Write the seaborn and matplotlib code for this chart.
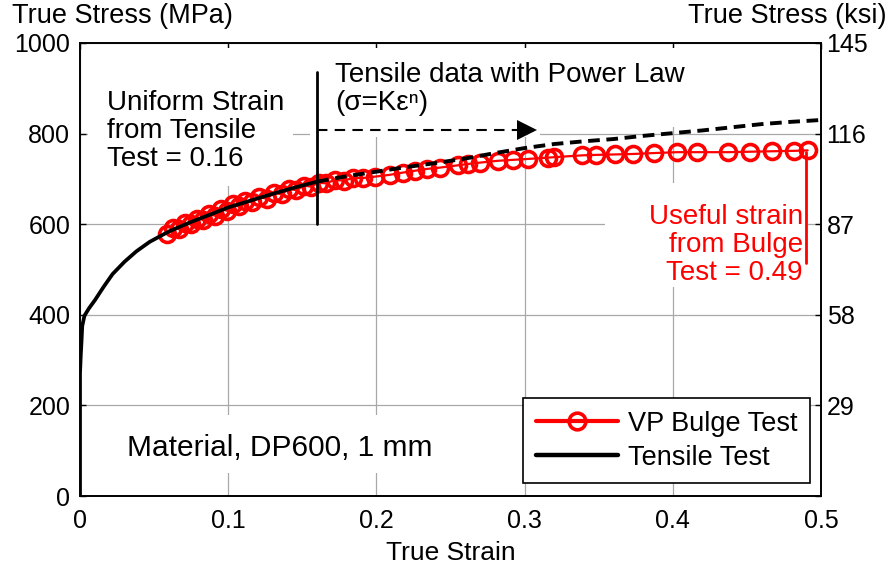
import matplotlib
matplotlib.use("Agg")
import matplotlib.pyplot as plt
from matplotlib.patches import Rectangle
from matplotlib.lines import Line2D
import seaborn as sns
import pandas as pd

# ---- data -------------------------------------------------------------
# tensile test, measured part (true strain, true stress MPa)
tensile_strain = [0.0, 0.0, 0.0005, 0.001, 0.0015, 0.003, 0.006, 0.010, 0.016,
                  0.022, 0.030, 0.038, 0.047, 0.060, 0.075, 0.090, 0.100,
                  0.115, 0.130, 0.145, 0.160]
tensile_stress = [0, 270, 310, 340, 375, 398, 414, 432, 462,
                  490, 517, 540, 561, 584, 605, 624, 637,
                  652, 667, 681, 694]

# tensile data extrapolated with the power law
power_strain = [0.160, 0.180, 0.200, 0.220, 0.240, 0.260, 0.280, 0.300, 0.320,
                0.340, 0.360, 0.380, 0.400, 0.420, 0.440, 0.460, 0.480, 0.500]
power_stress = [694, 706, 716, 726, 735, 745, 757, 768, 777,
                783, 788, 795, 801, 807, 814, 821, 826, 830]

# viscous pressure bulge test
bulge_strain = [0.059, 0.063, 0.067, 0.071, 0.075, 0.079, 0.083, 0.087, 0.091,
                0.095, 0.099, 0.103, 0.107, 0.111, 0.116, 0.121, 0.126, 0.131,
                0.136, 0.141, 0.146, 0.151, 0.156, 0.161, 0.166, 0.172, 0.178,
                0.184, 0.191, 0.199, 0.209, 0.218, 0.226, 0.234, 0.243, 0.255,
                0.262, 0.270, 0.282, 0.292, 0.302, 0.316, 0.320, 0.339, 0.348,
                0.361, 0.373, 0.387, 0.403, 0.416, 0.437, 0.452, 0.467, 0.482,
                0.491]
bulge_stress = [578, 592, 590, 602, 600, 612, 610, 622, 619,
                633, 630, 645, 640, 652, 648, 660, 656, 669,
                666, 678, 675, 685, 683, 692, 690, 698, 696,
                702, 702, 705, 709, 714, 718, 722, 725, 730,
                733, 736, 740, 742, 744, 747, 748, 752, 753,
                754, 755, 757, 759, 759, 759, 760, 761, 762,
                763]

uniform_strain = 0.16      # from tensile test
useful_strain = 0.49       # from bulge test

x_ticks = [0, 0.1, 0.2, 0.3, 0.4, 0.5]
x_tick_labels = ["0", "0.1", "0.2", "0.3", "0.4", "0.5"]
mpa_ticks = [0, 200, 400, 600, 800, 1000]
ksi_ticks = [0, 29, 58, 87, 116, 145]
ksi_tick_labels = ["", "29", "58", "87", "116", "145"]

tensile_df = pd.DataFrame({"strain": tensile_strain, "stress": tensile_stress})
power_df = pd.DataFrame({"strain": power_strain, "stress": power_stress})
bulge_df = pd.DataFrame({"strain": bulge_strain, "stress": bulge_stress})

# ---- style ------------------------------------------------------------
sns.set_style("white")
plt.rcParams["font.family"] = ["Liberation Sans", "DejaVu Sans"]
plt.rcParams["text.color"] = "black"
plt.rcParams["axes.labelcolor"] = "black"
plt.rcParams["xtick.color"] = "black"
plt.rcParams["ytick.color"] = "black"
plt.rcParams["axes.linewidth"] = 1.2

fig = plt.figure(figsize=(8.91, 5.72), dpi=100)
ax = fig.add_axes([80 / 891, 76 / 572, 741 / 891, 453 / 572])

ax.set_xlim(0, 0.5)
ax.set_ylim(0, 1000)
ax.set_axisbelow(True)
ax.grid(True, color="#a8a8a8", linewidth=0.9)

# ---- curves -----------------------------------------------------------
sns.lineplot(data=bulge_df, x="strain", y="stress", ax=ax, color="red",
             linewidth=1.6, marker="o", markersize=11.5, markeredgewidth=2.6,
             markerfacecolor="none", markeredgecolor="red",
             sort=False, estimator=None, zorder=3)
sns.lineplot(data=power_df, x="strain", y="stress", ax=ax, color="black",
             linewidth=2.8, linestyle=(0, (3.0, 1.7)),
             sort=False, estimator=None, zorder=4)
sns.lineplot(data=tensile_df, x="strain", y="stress", ax=ax, color="black",
             linewidth=2.7, sort=False, estimator=None, zorder=4)

# ---- white text backgrounds (hide the grid behind the notes) ----------
for x0, y0, w, h in [(0.011, 0.684, 0.276, 0.305),
                     (0.331, 0.815, 0.506, 0.174),
                     (0.310, 0.792, 0.311, 0.024),
                     (0.7085, 0.461, 0.2735, 0.230),
                     (0.047, 0.051, 0.500, 0.128)]:
    ax.add_patch(Rectangle((x0, y0), w, h, transform=ax.transAxes,
                           facecolor="white", edgecolor="none", zorder=1))

# ---- markers for the two strain limits --------------------------------
ax.plot([uniform_strain, uniform_strain], [600, 935], color="black",
        linewidth=2.0, zorder=5)
ax.plot([useful_strain, useful_strain], [515, 760], color="red",
        linewidth=2.0, zorder=2)

# dashed arrow towards the extrapolated range
ax.plot([uniform_strain, 0.296], [808, 808], color="black", linewidth=1.5,
        linestyle=(0, (5, 3.5)), zorder=5)
ax.plot([0.3015], [808], marker=">", markersize=14, color="black",
        markeredgewidth=0, linestyle="none", zorder=5)

# ---- notes --------------------------------------------------------------
note_size = 20
ax.text(0.036, 0.897, "Uniform Strain\nfrom Tensile\nTest = 0.16",
        transform=ax.transAxes, fontsize=note_size, va="top", ha="left",
        linespacing=1.1, zorder=6)
ax.text(0.344, 0.958, "Tensile data with Power Law\n(σ=Kεⁿ)",
        transform=ax.transAxes, fontsize=note_size, va="top", ha="left",
        linespacing=1.1, zorder=6)
ax.text(0.9757, 0.645, "Useful strain\nfrom Bulge\nTest = 0.49",
        transform=ax.transAxes, fontsize=note_size, va="top", ha="right",
        multialignment="right", linespacing=1.1, color="red", zorder=6)
ax.text(0.0634, 0.0883, "Material, DP600, 1 mm", transform=ax.transAxes,
        fontsize=21.5, va="baseline", ha="left", zorder=6)

# ---- axes, ticks --------------------------------------------------------
ax.set_xticks(x_ticks)
ax.set_xticklabels(x_tick_labels)
ax.set_yticks(mpa_ticks)
ax.tick_params(axis="both", which="both", direction="in", length=4,
               width=1.0, labelsize=18, colors="black")
ax.tick_params(axis="x", top=True, pad=9)
ax.tick_params(axis="y", left=True, right=False, pad=7)
for s in ax.spines.values():
    s.set_color("black")
    s.set_linewidth(1.2)
ax.set_xlabel("True Strain", fontsize=19, labelpad=6)
ax.set_ylabel("")

ax2 = ax.twinx()
ax2.set_ylim(0, 145)
ax2.set_yticks(ksi_ticks)
ax2.set_yticklabels(ksi_tick_labels)
ax2.tick_params(axis="y", direction="in", length=4, width=1.0,
                labelsize=18, pad=4, colors="black")
for s in ax2.spines.values():
    s.set_color("black")
    s.set_linewidth(1.2)
ax2.grid(False)

fig.text(12 / 891, 0.959, "True Stress (MPa)", fontsize=19.5,
         ha="left", va="baseline")
fig.text(887 / 891, 0.959, "True Stress (ksi)", fontsize=19.5,
         ha="right", va="baseline")

# ---- legend -------------------------------------------------------------
handles = [
    Line2D([], [], color="red", linewidth=3.0, marker="o", markersize=12,
           markeredgewidth=2.6, markerfacecolor="none", markeredgecolor="red"),
    Line2D([], [], color="black", linewidth=3.2),
]
leg = ax2.legend(handles, ["VP Bulge Test", "Tensile Test"],
                 loc="lower right", bbox_to_anchor=(0.985, 0.029),
                 borderaxespad=0, fontsize=19.5, handlelength=3.05,
                 handletextpad=0.37, labelspacing=0.3, borderpad=0.45,
                 fancybox=False, framealpha=1, edgecolor="black",
                 frameon=True)
leg.get_frame().set_linewidth(1.2)

fig.savefig("out.png", dpi=100, facecolor="white")
